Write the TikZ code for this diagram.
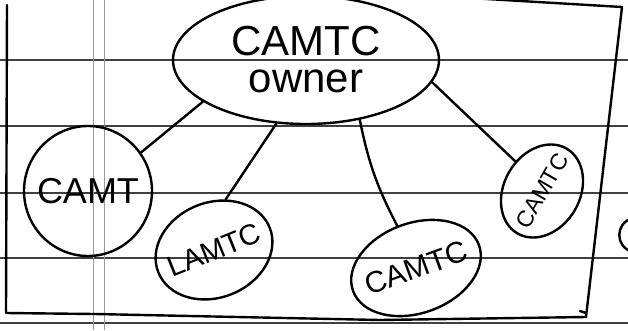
\documentclass[tikz,border=0pt]{standalone}
\usepackage{fontspec}
\setmainfont{Liberation Sans}
\usetikzlibrary{shapes.geometric}
\begin{document}
\begin{tikzpicture}[x=1pt,y=-1pt,
  ink/.style={line width=2.4pt, line cap=round, line join=round},
  bubble/.style={ellipse, draw, ink, inner sep=0pt},
  rule/.style={black!75, line width=1.2pt},
  margin/.style={black!40, line width=0.7pt},
  link/.style={ink}]
\useasboundingbox (0,0) rectangle (628,330);
\clip (0,0) rectangle (628,330);
% lined paper
\foreach \y in {60,126,193,258,323} \draw[rule] (0,\y) -- (628,\y);
\foreach \x in {93,104} \draw[margin] (\x,0) -- (\x,330);
% hand-drawn frame
\draw[ink] (7,5) -- (6,313) -- (95,314) -- (380,320) -- (586,317) -- (622,7) -- (470,-2);
\draw[ink] (580,311) -- (586,313);
% partial letter at right edge
\draw[ink] (632,218) .. controls (615,224) and (615,246) .. (632,252);
% nodes
\node[bubble, minimum width=266pt, minimum height=128pt, align=center,
      font=\fontsize{42}{37}\selectfont] (own) at (306,60) {CAMTC\\owner};
\node[bubble, minimum width=128pt, minimum height=130pt,
      font=\fontsize{36}{36}\selectfont] (c1) at (88,191) {\makebox[0pt]{CAMT}};
\node[bubble, rotate=22, minimum width=120pt, minimum height=95pt,
      font=\fontsize{29}{29}\selectfont] (c2) at (214,250) {\makebox[0pt]{LAMTC}};
\node[bubble, rotate=20, minimum width=134pt, minimum height=90pt,
      font=\fontsize{30}{30}\selectfont] (c3) at (416,268) {\makebox[0pt]{CAMTC}};
\node[bubble, rotate=60, minimum width=98pt, minimum height=76pt,
      font=\fontsize{23}{23}\selectfont] (c4) at (542,191) {\makebox[0pt]{CAMTC}};
% connectors
\draw[link] (own.202) -- (c1.36);
\draw[link] (own.245) -- (c2.55);
\draw[link] (own.312) to[bend right=8] (c3.94);
\draw[link] (own.350) -- (c4.72);
\end{tikzpicture}
\end{document}
